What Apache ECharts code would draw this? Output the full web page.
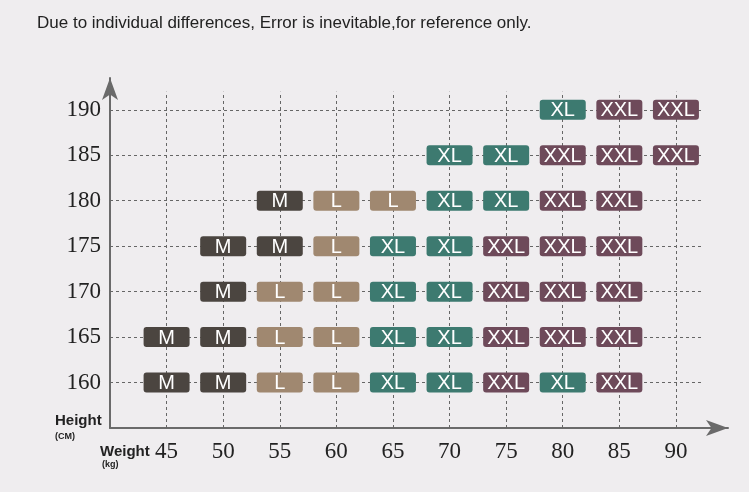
<!DOCTYPE html>
<html><head><meta charset="utf-8">
<style>html,body{margin:0;padding:0;background:#efedef;}#c{width:749px;height:492px;}</style>
<script src="https://cdn.jsdelivr.net/npm/echarts@6/dist/echarts.min.js"></script>
</head><body><div id="c"></div>
<script>
const weights = [45, 50, 55, 60, 65, 70, 75, 80, 85, 90];
const heights = [160, 165, 170, 175, 180, 185, 190];
// sizes per height row (index aligned with weights), '' = empty
const row160 = ['M','M','L','L','XL','XL','XXL','XL','XXL',''];
const row165 = ['M','M','L','L','XL','XL','XXL','XXL','XXL',''];
const row170 = ['','M','L','L','XL','XL','XXL','XXL','XXL',''];
const row175 = ['','M','M','L','XL','XL','XXL','XXL','XXL',''];
const row180 = ['','','M','L','L','XL','XL','XXL','XXL',''];
const row185 = ['','','','','','XL','XL','XXL','XXL','XXL'];
const row190 = ['','','','','','','','XL','XXL','XXL'];
const rows = [row160,row165,row170,row175,row180,row185,row190];
const sizeColors = {M:'#4b4540', L:'#a08870', XL:'#3d7a70', XXL:'#6e4a5a'};

const pts = [];
rows.forEach((r,i)=>r.forEach((s,j)=>{ if(s) pts.push({value:[weights[j],heights[i]], name:s}); }));

const gridLines = [];
weights.forEach(w=>gridLines.push([{coord:[w,155]},{coord:[w,192]}]));
heights.forEach(h=>gridLines.push([{coord:[40,h]},{coord:[92.3,h]}]));

const chart = echarts.init(document.getElementById('c'));
chart.setOption({
  backgroundColor:'#efedef',
  animation:false,
  grid:{left:110,right:21,top:78,bottom:64},
  xAxis:{type:'value',min:40,max:94.6,interval:5,
    axisLine:{lineStyle:{color:'#6a6a6a',width:2},symbol:['none','arrow'],symbolSize:[12,22]},
    axisTick:{show:false},splitLine:{show:false},
    axisLabel:{color:'#222',fontFamily:'Liberation Serif',fontSize:23,margin:12,
      formatter:v=>weights.includes(v)?String(v):''}},
  yAxis:{type:'value',min:155,max:193.5,interval:5,
    axisLine:{show:true,lineStyle:{color:'#6a6a6a',width:2},symbol:['none','arrow'],symbolSize:[12,22]},
    axisTick:{show:false},splitLine:{show:false},
    axisLabel:{color:'#222',fontFamily:'Liberation Serif',fontSize:23,margin:9,
      formatter:v=>heights.includes(v)?String(v):''}},
  graphic:[
    {type:'text',left:37,top:15,style:{text:'Due to individual differences, Error is inevitable,for reference only.',fill:'#222',font:'17px "Liberation Sans", Arial, sans-serif'}},
    {type:'text',left:55,top:413,style:{text:'Height',fill:'#222',font:'bold 15px "Liberation Sans", Arial, sans-serif'}},
    {type:'text',left:55,top:432,style:{text:'(CM)',fill:'#222',font:'bold 9px "Liberation Sans", Arial, sans-serif'}},
    {type:'text',left:100,top:444,style:{text:'Weight',fill:'#222',font:'bold 15px "Liberation Sans", Arial, sans-serif'}},
    {type:'text',left:102,top:460,style:{text:'(kg)',fill:'#222',font:'bold 9px "Liberation Sans", Arial, sans-serif'}}
  ],
  series:[
    {type:'line',data:[],silent:true,
      markLine:{symbol:'none',silent:true,label:{show:false},
        lineStyle:{type:[3,3],color:'#666',width:1},data:gridLines}},
    {type:'custom',data:pts.map(p=>p.value),z:5,
      renderItem:(params,api)=>{
        const c = api.coord([api.value(0),api.value(1)]);
        const s = pts[params.dataIndex].name;
        return {type:'group',children:[
          {type:'rect',shape:{x:c[0]-23,y:c[1]-10,width:46,height:20,r:3},style:{fill:sizeColors[s]}},
          {type:'text',x:c[0],y:c[1]+1,style:{text:s,fill:'#fff',align:'center',verticalAlign:'middle',
            font:'20px "Liberation Sans", Arial, sans-serif'}}
        ]};
      }}
  ]
});
</script></body></html>
